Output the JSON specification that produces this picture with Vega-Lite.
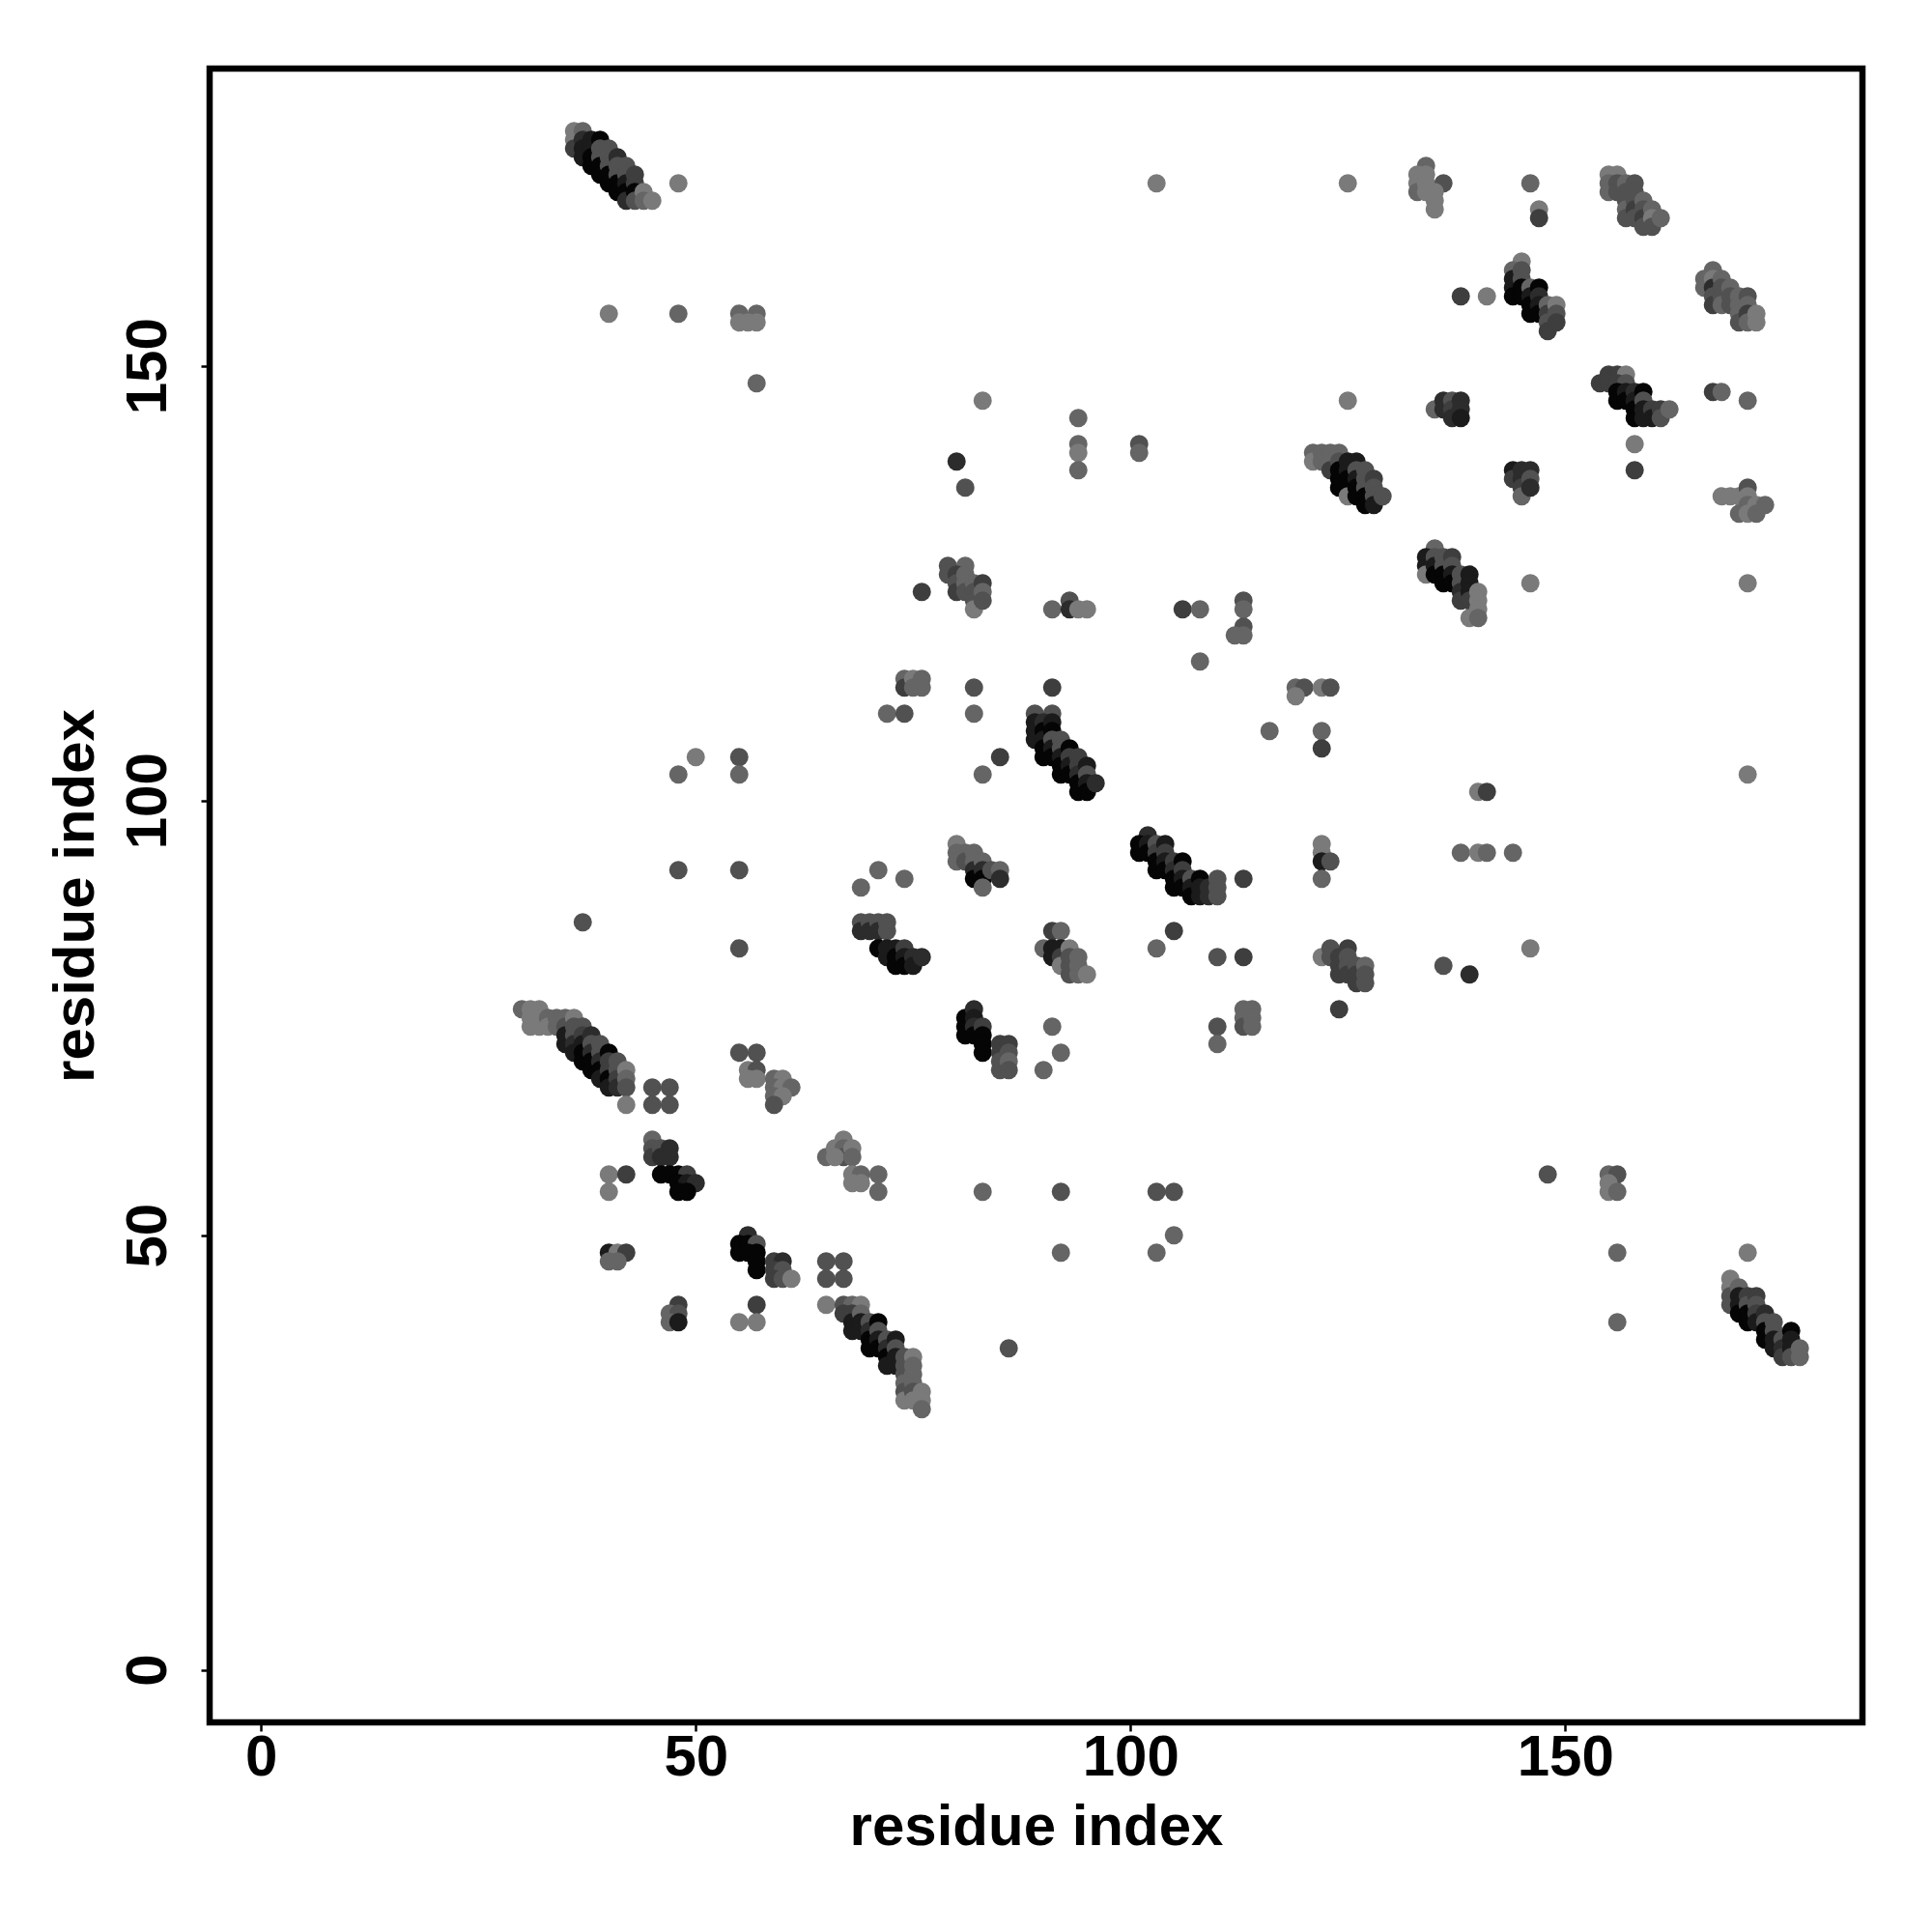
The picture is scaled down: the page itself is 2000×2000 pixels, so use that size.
{"$schema":"https://vega.github.io/schema/vega-lite/v6.json","width":1711,"height":1712,"autosize":{"type":"none"},"padding":{"left":217,"top":71,"right":72,"bottom":217},"background":"white","view":{"stroke":"black","strokeWidth":6.5},"config":{"axis":{"grid":false,"domain":false,"tickColor":"black","tickWidth":2.5,"tickSize":9,"labelFont":"Liberation Sans","labelFontWeight":"bold","labelFontSize":60,"labelColor":"black","titleFont":"Liberation Sans","titleFontWeight":"bold","titleFontSize":60,"titleColor":"black"}},"data":{"values":[
{"i":36,"j":177,"w":1},{"i":36,"j":176,"w":1},{"i":36,"j":175,"w":4},{"i":37,"j":177,"w":2},{"i":37,"j":176,"w":5},{"i":37,"j":175,"w":6},{"i":37,"j":174,"w":6},{"i":38,"j":176,"w":6},{"i":38,"j":175,"w":6},{"i":38,"j":174,"w":7},{"i":38,"j":173,"w":7},{"i":39,"j":176,"w":7},{"i":39,"j":175,"w":3},{"i":39,"j":174,"w":3},{"i":39,"j":173,"w":7},{"i":39,"j":172,"w":7},{"i":40,"j":175,"w":3},{"i":40,"j":174,"w":3},{"i":40,"j":173,"w":3},{"i":40,"j":172,"w":7},{"i":40,"j":171,"w":7},{"i":41,"j":174,"w":5},{"i":41,"j":173,"w":3},{"i":41,"j":172,"w":3},{"i":41,"j":171,"w":7},{"i":41,"j":170,"w":7},{"i":42,"j":173,"w":3},{"i":42,"j":172,"w":3},{"i":42,"j":171,"w":6},{"i":42,"j":170,"w":7},{"i":42,"j":169,"w":5},{"i":43,"j":172,"w":4},{"i":43,"j":171,"w":4},{"i":43,"j":170,"w":7},{"i":43,"j":169,"w":3},{"i":44,"j":170,"w":1},{"i":44,"j":169,"w":2},{"i":45,"j":169,"w":1},
{"i":40,"j":156,"w":1},{"i":48,"j":156,"w":2},{"i":55,"j":156,"w":2},{"i":57,"j":156,"w":2},{"i":55,"j":155,"w":1},{"i":56,"j":155,"w":1},{"i":57,"j":155,"w":1},{"i":57,"j":148,"w":2},{"i":48,"j":171,"w":1},{"i":83,"j":146,"w":1},
{"i":103,"j":171,"w":1},{"i":125,"j":171,"w":1},{"i":134,"j":173,"w":2},{"i":133,"j":172,"w":1},{"i":133,"j":171,"w":1},{"i":133,"j":170,"w":2},{"i":134,"j":172,"w":1},{"i":134,"j":171,"w":1},{"i":134,"j":170,"w":1},{"i":136,"j":171,"w":3},{"i":135,"j":170,"w":1},{"i":135,"j":169,"w":1},{"i":135,"j":168,"w":1},{"i":146,"j":171,"w":2},{"i":147,"j":168,"w":1},{"i":147,"j":167,"w":4},
{"i":145,"j":162,"w":1},{"i":144,"j":161,"w":2},{"i":144,"j":160,"w":6},{"i":144,"j":159,"w":6},{"i":144,"j":158,"w":7},{"i":145,"j":161,"w":3},{"i":145,"j":160,"w":3},{"i":145,"j":159,"w":7},{"i":145,"j":158,"w":7},{"i":146,"j":159,"w":2},{"i":146,"j":158,"w":6},{"i":146,"j":157,"w":7},{"i":146,"j":156,"w":7},{"i":147,"j":159,"w":7},{"i":147,"j":158,"w":5},{"i":147,"j":157,"w":6},{"i":147,"j":156,"w":7},{"i":148,"j":157,"w":2},{"i":148,"j":156,"w":4},{"i":148,"j":155,"w":3},{"i":148,"j":154,"w":4},{"i":149,"j":157,"w":1},{"i":149,"j":156,"w":3},{"i":149,"j":155,"w":4},{"i":138,"j":158,"w":4},{"i":141,"j":158,"w":1},{"i":125,"j":146,"w":1},
{"i":135,"j":145,"w":2},{"i":136,"j":146,"w":5},{"i":136,"j":145,"w":5},{"i":137,"j":146,"w":3},{"i":137,"j":145,"w":4},{"i":137,"j":144,"w":5},{"i":138,"j":146,"w":5},{"i":138,"j":145,"w":5},{"i":138,"j":144,"w":6},{"i":101,"j":141,"w":3},{"i":101,"j":140,"w":2},
{"i":121,"j":140,"w":2},{"i":121,"j":139,"w":1},{"i":122,"j":140,"w":2},{"i":122,"j":139,"w":2},{"i":123,"j":140,"w":2},{"i":123,"j":139,"w":2},{"i":123,"j":138,"w":4},{"i":124,"j":140,"w":2},{"i":124,"j":139,"w":3},{"i":124,"j":138,"w":7},{"i":124,"j":137,"w":7},{"i":124,"j":136,"w":7},{"i":125,"j":139,"w":6},{"i":125,"j":138,"w":6},{"i":125,"j":137,"w":7},{"i":125,"j":136,"w":7},{"i":125,"j":135,"w":1},{"i":126,"j":139,"w":6},{"i":126,"j":138,"w":3},{"i":126,"j":137,"w":6},{"i":126,"j":136,"w":7},{"i":126,"j":135,"w":7},{"i":127,"j":138,"w":3},{"i":127,"j":137,"w":3},{"i":127,"j":136,"w":3},{"i":127,"j":135,"w":7},{"i":127,"j":134,"w":7},{"i":128,"j":137,"w":4},{"i":128,"j":136,"w":3},{"i":128,"j":135,"w":3},{"i":128,"j":134,"w":6},{"i":129,"j":135,"w":3},
{"i":144,"j":138,"w":6},{"i":144,"j":137,"w":4},{"i":145,"j":138,"w":5},{"i":145,"j":137,"w":5},{"i":145,"j":136,"w":4},{"i":145,"j":135,"w":2},{"i":146,"j":138,"w":5},{"i":146,"j":137,"w":3},{"i":146,"j":136,"w":5},
{"i":155,"j":172,"w":1},{"i":156,"j":172,"w":1},{"i":155,"j":171,"w":2},{"i":155,"j":170,"w":2},{"i":156,"j":171,"w":3},{"i":156,"j":170,"w":3},{"i":157,"j":171,"w":2},{"i":157,"j":170,"w":3},{"i":157,"j":169,"w":3},{"i":157,"j":168,"w":2},{"i":157,"j":167,"w":3},{"i":158,"j":171,"w":3},{"i":158,"j":170,"w":3},{"i":158,"j":169,"w":3},{"i":158,"j":168,"w":4},{"i":158,"j":167,"w":3},{"i":159,"j":169,"w":2},{"i":159,"j":168,"w":3},{"i":159,"j":167,"w":4},{"i":159,"j":166,"w":3},{"i":160,"j":168,"w":2},{"i":160,"j":167,"w":1},{"i":160,"j":166,"w":3},{"i":161,"j":167,"w":2},
{"i":167,"j":161,"w":2},{"i":166,"j":160,"w":2},{"i":166,"j":159,"w":2},{"i":167,"j":160,"w":1},{"i":167,"j":159,"w":5},{"i":167,"j":158,"w":3},{"i":167,"j":157,"w":4},{"i":168,"j":160,"w":2},{"i":168,"j":159,"w":3},{"i":168,"j":158,"w":3},{"i":168,"j":157,"w":2},{"i":169,"j":159,"w":2},{"i":169,"j":158,"w":3},{"i":169,"j":157,"w":3},{"i":170,"j":158,"w":2},{"i":170,"j":157,"w":2},{"i":170,"j":156,"w":2},{"i":170,"j":155,"w":3},{"i":171,"j":158,"w":3},{"i":171,"j":157,"w":2},{"i":171,"j":156,"w":4},{"i":171,"j":155,"w":2},{"i":172,"j":156,"w":1},{"i":172,"j":155,"w":1},
{"i":154,"j":148,"w":4},{"i":155,"j":149,"w":4},{"i":156,"j":149,"w":4},{"i":157,"j":149,"w":1},{"i":155,"j":148,"w":4},{"i":156,"j":148,"w":4},{"i":157,"j":148,"w":3},{"i":156,"j":147,"w":7},{"i":156,"j":146,"w":7},{"i":157,"j":147,"w":6},{"i":157,"j":146,"w":7},{"i":158,"j":147,"w":5},{"i":158,"j":146,"w":6},{"i":158,"j":145,"w":7},{"i":158,"j":144,"w":7},{"i":159,"j":147,"w":7},{"i":159,"j":146,"w":3},{"i":159,"j":145,"w":6},{"i":159,"j":144,"w":6},{"i":160,"j":145,"w":4},{"i":160,"j":144,"w":6},{"i":161,"j":145,"w":4},{"i":161,"j":144,"w":3},{"i":162,"j":145,"w":2},
{"i":167,"j":147,"w":4},{"i":168,"j":147,"w":2},{"i":171,"j":146,"w":2},{"i":158,"j":141,"w":1},{"i":158,"j":138,"w":4},{"i":168,"j":135,"w":1},{"i":169,"j":135,"w":1},{"i":170,"j":135,"w":1},{"i":171,"j":136,"w":3},{"i":171,"j":135,"w":1},{"i":171,"j":134,"w":2},{"i":170,"j":133,"w":2},{"i":171,"j":133,"w":1},{"i":172,"j":134,"w":1},{"i":172,"j":133,"w":2},{"i":173,"j":134,"w":2},{"i":146,"j":125,"w":1},{"i":171,"j":125,"w":1},
{"i":94,"j":144,"w":2},{"i":94,"j":141,"w":2},{"i":94,"j":140,"w":1},{"i":94,"j":138,"w":2},{"i":80,"j":139,"w":5},{"i":81,"j":136,"w":3},
{"i":79,"j":127,"w":3},{"i":79,"j":126,"w":3},{"i":81,"j":127,"w":2},{"i":80,"j":126,"w":4},{"i":80,"j":125,"w":3},{"i":80,"j":124,"w":4},{"i":81,"j":126,"w":2},{"i":81,"j":125,"w":2},{"i":81,"j":124,"w":3},{"i":82,"j":125,"w":2},{"i":82,"j":124,"w":3},{"i":82,"j":123,"w":3},{"i":82,"j":122,"w":1},{"i":83,"j":125,"w":4},{"i":83,"j":124,"w":2},{"i":83,"j":123,"w":3},{"i":76,"j":124,"w":4},
{"i":91,"j":122,"w":2},{"i":93,"j":123,"w":3},{"i":93,"j":122,"w":5},{"i":94,"j":122,"w":1},{"i":95,"j":122,"w":1},{"i":106,"j":122,"w":4},{"i":108,"j":122,"w":2},{"i":113,"j":123,"w":3},{"i":113,"j":122,"w":2},{"i":113,"j":120,"w":3},{"i":113,"j":119,"w":2},{"i":112,"j":119,"w":2},{"i":108,"j":116,"w":2},
{"i":74,"j":114,"w":2},{"i":74,"j":113,"w":4},{"i":75,"j":114,"w":1},{"i":75,"j":113,"w":2},{"i":76,"j":114,"w":2},{"i":76,"j":113,"w":2},{"i":82,"j":113,"w":3},{"i":91,"j":113,"w":4},{"i":72,"j":110,"w":2},{"i":74,"j":110,"w":3},{"i":82,"j":110,"w":2},{"i":89,"j":110,"w":3},{"i":91,"j":110,"w":3},{"i":85,"j":105,"w":4},{"i":83,"j":103,"w":2},
{"i":119,"j":113,"w":2},{"i":120,"j":113,"w":3},{"i":119,"j":112,"w":1},{"i":122,"j":113,"w":1},{"i":123,"j":113,"w":3},{"i":116,"j":108,"w":2},{"i":122,"j":108,"w":2},{"i":122,"j":106,"w":4},
{"i":89,"j":109,"w":6},{"i":89,"j":108,"w":6},{"i":89,"j":107,"w":6},{"i":90,"j":109,"w":5},{"i":90,"j":108,"w":7},{"i":90,"j":107,"w":6},{"i":90,"j":106,"w":7},{"i":90,"j":105,"w":7},{"i":91,"j":109,"w":6},{"i":91,"j":108,"w":7},{"i":91,"j":107,"w":3},{"i":91,"j":106,"w":6},{"i":91,"j":105,"w":7},{"i":92,"j":107,"w":3},{"i":92,"j":106,"w":3},{"i":92,"j":105,"w":6},{"i":92,"j":104,"w":7},{"i":92,"j":103,"w":7},{"i":93,"j":106,"w":7},{"i":93,"j":105,"w":4},{"i":93,"j":104,"w":6},{"i":93,"j":103,"w":7},{"i":94,"j":105,"w":4},{"i":94,"j":104,"w":4},{"i":94,"j":103,"w":5},{"i":94,"j":102,"w":7},{"i":94,"j":101,"w":7},{"i":95,"j":104,"w":6},{"i":95,"j":103,"w":3},{"i":95,"j":102,"w":6},{"i":95,"j":101,"w":7},{"i":96,"j":102,"w":5},
{"i":102,"j":96,"w":5},{"i":101,"j":95,"w":7},{"i":101,"j":94,"w":7},{"i":102,"j":95,"w":6},{"i":102,"j":94,"w":7},{"i":103,"j":95,"w":3},{"i":103,"j":94,"w":4},{"i":103,"j":93,"w":7},{"i":103,"j":92,"w":7},{"i":104,"j":95,"w":6},{"i":104,"j":94,"w":4},{"i":104,"j":93,"w":6},{"i":104,"j":92,"w":7},{"i":105,"j":93,"w":4},{"i":105,"j":92,"w":5},{"i":105,"j":91,"w":7},{"i":105,"j":90,"w":7},{"i":106,"j":93,"w":7},{"i":106,"j":92,"w":4},{"i":106,"j":91,"w":6},{"i":106,"j":90,"w":7},{"i":107,"j":91,"w":3},{"i":107,"j":90,"w":6},{"i":107,"j":89,"w":7},{"i":108,"j":91,"w":7},{"i":108,"j":90,"w":6},{"i":108,"j":89,"w":6},{"i":109,"j":90,"w":5},{"i":109,"j":89,"w":5},{"i":110,"j":91,"w":3},{"i":110,"j":90,"w":3},{"i":110,"j":89,"w":3},{"i":113,"j":91,"w":4},
{"i":122,"j":95,"w":1},{"i":122,"j":94,"w":1},{"i":122,"j":93,"w":6},{"i":123,"j":93,"w":3},{"i":122,"j":91,"w":2},{"i":138,"j":94,"w":2},{"i":140,"j":94,"w":1},{"i":141,"j":94,"w":2},{"i":144,"j":94,"w":2},{"i":146,"j":83,"w":1},{"i":136,"j":81,"w":3},{"i":139,"j":80,"w":5},{"i":140,"j":101,"w":1},{"i":141,"j":101,"w":4},{"i":171,"j":103,"w":1},{"i":171,"j":48,"w":1},
{"i":55,"j":105,"w":3},{"i":55,"j":103,"w":2},{"i":48,"j":103,"w":2},{"i":50,"j":105,"w":1},{"i":48,"j":92,"w":3},{"i":55,"j":92,"w":3},{"i":55,"j":83,"w":3},{"i":37,"j":86,"w":3},
{"i":91,"j":85,"w":4},{"i":92,"j":85,"w":2},{"i":90,"j":83,"w":2},{"i":91,"j":83,"w":6},{"i":91,"j":82,"w":6},{"i":92,"j":83,"w":6},{"i":92,"j":82,"w":4},{"i":92,"j":81,"w":1},{"i":93,"j":83,"w":1},{"i":93,"j":82,"w":3},{"i":93,"j":81,"w":3},{"i":93,"j":80,"w":3},{"i":94,"j":82,"w":2},{"i":94,"j":81,"w":2},{"i":94,"j":80,"w":2},{"i":95,"j":80,"w":1},
{"i":105,"j":85,"w":4},{"i":103,"j":83,"w":2},{"i":110,"j":82,"w":3},{"i":113,"j":82,"w":4},
{"i":122,"j":82,"w":1},{"i":123,"j":83,"w":3},{"i":123,"j":82,"w":3},{"i":124,"j":82,"w":4},{"i":124,"j":81,"w":4},{"i":124,"j":80,"w":4},{"i":125,"j":83,"w":4},{"i":125,"j":82,"w":3},{"i":125,"j":81,"w":3},{"i":125,"j":80,"w":4},{"i":126,"j":81,"w":3},{"i":126,"j":80,"w":4},{"i":126,"j":79,"w":4},{"i":127,"j":81,"w":2},{"i":127,"j":80,"w":3},{"i":127,"j":79,"w":3},
{"i":124,"j":76,"w":4},{"i":113,"j":76,"w":2},{"i":113,"j":75,"w":2},{"i":113,"j":74,"w":3},{"i":114,"j":76,"w":2},{"i":114,"j":75,"w":2},{"i":114,"j":74,"w":2},{"i":110,"j":74,"w":3},{"i":110,"j":72,"w":2},{"i":91,"j":74,"w":2},{"i":92,"j":71,"w":2},{"i":90,"j":69,"w":2},
{"i":81,"j":75,"w":7},{"i":81,"j":74,"w":7},{"i":81,"j":73,"w":7},{"i":82,"j":76,"w":5},{"i":82,"j":75,"w":6},{"i":82,"j":74,"w":5},{"i":82,"j":73,"w":7},{"i":83,"j":74,"w":4},{"i":83,"j":73,"w":7},{"i":83,"j":72,"w":7},{"i":83,"j":71,"w":7},{"i":85,"j":72,"w":4},{"i":85,"j":71,"w":4},{"i":85,"j":70,"w":3},{"i":85,"j":69,"w":3},{"i":86,"j":72,"w":4},{"i":86,"j":71,"w":3},{"i":86,"j":70,"w":2},{"i":86,"j":69,"w":3},
{"i":69,"j":86,"w":3},{"i":69,"j":85,"w":5},{"i":70,"j":86,"w":3},{"i":70,"j":85,"w":5},{"i":71,"j":86,"w":3},{"i":71,"j":85,"w":5},{"i":71,"j":83,"w":7},{"i":72,"j":86,"w":3},{"i":72,"j":85,"w":3},{"i":72,"j":83,"w":6},{"i":72,"j":82,"w":6},{"i":73,"j":83,"w":6},{"i":73,"j":82,"w":7},{"i":73,"j":81,"w":7},{"i":74,"j":83,"w":4},{"i":74,"j":82,"w":6},{"i":74,"j":81,"w":7},{"i":75,"j":82,"w":5},{"i":75,"j":81,"w":6},{"i":76,"j":82,"w":5},
{"i":80,"j":95,"w":1},{"i":80,"j":94,"w":2},{"i":80,"j":93,"w":2},{"i":81,"j":94,"w":2},{"i":81,"j":93,"w":3},{"i":82,"j":94,"w":2},{"i":82,"j":93,"w":2},{"i":82,"j":92,"w":5},{"i":82,"j":91,"w":7},{"i":83,"j":93,"w":2},{"i":83,"j":92,"w":5},{"i":83,"j":91,"w":7},{"i":83,"j":90,"w":2},{"i":84,"j":92,"w":3},{"i":85,"j":92,"w":2},{"i":85,"j":91,"w":5},{"i":69,"j":90,"w":2},{"i":71,"j":92,"w":2},{"i":74,"j":91,"w":2},
{"i":30,"j":76,"w":2},{"i":31,"j":76,"w":1},{"i":32,"j":76,"w":1},{"i":31,"j":75,"w":1},{"i":31,"j":74,"w":1},{"i":32,"j":75,"w":1},{"i":32,"j":74,"w":1},{"i":33,"j":75,"w":2},{"i":33,"j":74,"w":1},{"i":34,"j":75,"w":2},{"i":34,"j":74,"w":2},{"i":35,"j":75,"w":2},{"i":35,"j":74,"w":3},{"i":35,"j":73,"w":6},{"i":35,"j":72,"w":6},{"i":36,"j":75,"w":1},{"i":36,"j":74,"w":3},{"i":36,"j":73,"w":3},{"i":36,"j":72,"w":5},{"i":36,"j":71,"w":6},{"i":37,"j":74,"w":3},{"i":37,"j":73,"w":4},{"i":37,"j":72,"w":6},{"i":37,"j":71,"w":7},{"i":37,"j":70,"w":7},{"i":38,"j":73,"w":5},{"i":38,"j":72,"w":3},{"i":38,"j":71,"w":5},{"i":38,"j":70,"w":7},{"i":38,"j":69,"w":7},{"i":39,"j":72,"w":3},{"i":39,"j":71,"w":3},{"i":39,"j":70,"w":5},{"i":39,"j":69,"w":7},{"i":39,"j":68,"w":6},{"i":40,"j":71,"w":7},{"i":40,"j":70,"w":4},{"i":40,"j":69,"w":4},{"i":40,"j":68,"w":7},{"i":40,"j":67,"w":6},{"i":41,"j":70,"w":3},{"i":41,"j":69,"w":3},{"i":41,"j":68,"w":4},{"i":41,"j":67,"w":5},{"i":42,"j":69,"w":1},{"i":42,"j":68,"w":2},{"i":42,"j":67,"w":3},{"i":42,"j":65,"w":1},
{"i":45,"j":67,"w":3},{"i":47,"j":67,"w":3},{"i":45,"j":65,"w":3},{"i":47,"j":65,"w":3},{"i":45,"j":61,"w":2},{"i":45,"j":60,"w":3},{"i":45,"j":59,"w":4},{"i":46,"j":60,"w":3},{"i":46,"j":59,"w":5},{"i":47,"j":60,"w":5},{"i":47,"j":59,"w":5},{"i":40,"j":57,"w":1},{"i":42,"j":57,"w":4},{"i":40,"j":55,"w":1},{"i":46,"j":57,"w":7},{"i":47,"j":57,"w":7},{"i":48,"j":57,"w":7},{"i":49,"j":57,"w":4},{"i":48,"j":56,"w":7},{"i":49,"j":56,"w":6},{"i":50,"j":56,"w":5},{"i":48,"j":55,"w":7},{"i":49,"j":55,"w":7},
{"i":55,"j":71,"w":3},{"i":57,"j":71,"w":3},{"i":56,"j":69,"w":1},{"i":57,"j":69,"w":3},{"i":56,"j":68,"w":1},{"i":57,"j":68,"w":1},{"i":59,"j":68,"w":2},{"i":60,"j":68,"w":1},{"i":59,"j":67,"w":2},{"i":60,"j":67,"w":1},{"i":61,"j":67,"w":2},{"i":59,"j":66,"w":2},{"i":60,"j":66,"w":1},{"i":59,"j":65,"w":3},
{"i":65,"j":59,"w":2},{"i":66,"j":60,"w":1},{"i":67,"j":61,"w":1},{"i":67,"j":60,"w":2},{"i":67,"j":59,"w":3},{"i":66,"j":59,"w":1},{"i":68,"j":60,"w":1},{"i":68,"j":59,"w":2},{"i":68,"j":57,"w":1},{"i":69,"j":57,"w":2},{"i":68,"j":56,"w":1},{"i":69,"j":56,"w":1},{"i":71,"j":57,"w":2},{"i":71,"j":55,"w":2},
{"i":40,"j":48,"w":6},{"i":41,"j":48,"w":1},{"i":42,"j":48,"w":4},{"i":40,"j":47,"w":2},{"i":41,"j":47,"w":2},{"i":56,"j":50,"w":5},{"i":55,"j":49,"w":7},{"i":55,"j":48,"w":7},{"i":56,"j":49,"w":7},{"i":57,"j":49,"w":3},{"i":56,"j":48,"w":7},{"i":57,"j":48,"w":7},{"i":57,"j":47,"w":7},{"i":57,"j":46,"w":7},{"i":59,"j":47,"w":4},{"i":60,"j":47,"w":5},{"i":59,"j":46,"w":4},{"i":60,"j":46,"w":3},{"i":59,"j":45,"w":4},{"i":60,"j":45,"w":3},{"i":61,"j":45,"w":1},{"i":65,"j":47,"w":3},{"i":67,"j":47,"w":3},{"i":65,"j":45,"w":3},{"i":67,"j":45,"w":3},
{"i":48,"j":42,"w":4},{"i":47,"j":41,"w":2},{"i":48,"j":41,"w":3},{"i":47,"j":40,"w":2},{"i":48,"j":40,"w":6},{"i":57,"j":42,"w":4},{"i":55,"j":40,"w":1},{"i":57,"j":40,"w":1},{"i":65,"j":42,"w":1},
{"i":67,"j":42,"w":3},{"i":68,"j":42,"w":2},{"i":69,"j":42,"w":1},{"i":67,"j":41,"w":4},{"i":68,"j":41,"w":4},{"i":68,"j":40,"w":6},{"i":68,"j":39,"w":6},{"i":69,"j":41,"w":2},{"i":69,"j":40,"w":6},{"i":69,"j":39,"w":6},{"i":70,"j":40,"w":3},{"i":70,"j":39,"w":5},{"i":70,"j":38,"w":7},{"i":70,"j":37,"w":7},{"i":71,"j":40,"w":7},{"i":71,"j":39,"w":3},{"i":71,"j":38,"w":6},{"i":71,"j":37,"w":7},{"i":72,"j":38,"w":3},{"i":72,"j":37,"w":5},{"i":72,"j":36,"w":7},{"i":72,"j":35,"w":6},{"i":73,"j":38,"w":6},{"i":73,"j":37,"w":3},{"i":73,"j":36,"w":6},{"i":73,"j":35,"w":6},{"i":74,"j":36,"w":3},{"i":74,"j":35,"w":3},{"i":74,"j":34,"w":3},{"i":74,"j":33,"w":2},{"i":74,"j":32,"w":3},{"i":74,"j":31,"w":1},{"i":75,"j":36,"w":1},{"i":75,"j":35,"w":2},{"i":75,"j":34,"w":2},{"i":75,"j":33,"w":2},{"i":75,"j":32,"w":3},{"i":75,"j":31,"w":1},{"i":76,"j":32,"w":1},{"i":76,"j":31,"w":1},{"i":76,"j":30,"w":2},{"i":86,"j":37,"w":3},
{"i":83,"j":55,"w":2},{"i":92,"j":55,"w":3},{"i":103,"j":55,"w":3},{"i":105,"j":55,"w":3},{"i":105,"j":50,"w":2},{"i":92,"j":48,"w":2},{"i":103,"j":48,"w":2},
{"i":156,"j":48,"w":2},{"i":156,"j":40,"w":2},{"i":148,"j":57,"w":3},{"i":155,"j":57,"w":2},{"i":156,"j":57,"w":3},{"i":155,"j":56,"w":1},{"i":155,"j":55,"w":1},{"i":156,"j":55,"w":2},
{"i":169,"j":45,"w":1},{"i":169,"j":44,"w":1},{"i":169,"j":43,"w":3},{"i":169,"j":42,"w":3},{"i":170,"j":44,"w":2},{"i":170,"j":43,"w":6},{"i":170,"j":42,"w":6},{"i":170,"j":41,"w":7},{"i":171,"j":43,"w":4},{"i":171,"j":42,"w":3},{"i":171,"j":41,"w":7},{"i":171,"j":40,"w":7},{"i":172,"j":43,"w":4},{"i":172,"j":42,"w":3},{"i":172,"j":41,"w":4},{"i":172,"j":40,"w":6},{"i":173,"j":41,"w":5},{"i":173,"j":40,"w":3},{"i":173,"j":39,"w":7},{"i":173,"j":38,"w":7},{"i":174,"j":40,"w":3},{"i":174,"j":39,"w":3},{"i":174,"j":38,"w":6},{"i":174,"j":37,"w":6},{"i":175,"j":38,"w":3},{"i":175,"j":37,"w":5},{"i":175,"j":36,"w":4},{"i":176,"j":39,"w":7},{"i":176,"j":38,"w":6},{"i":176,"j":37,"w":6},{"i":176,"j":36,"w":3},{"i":177,"j":37,"w":2},{"i":177,"j":36,"w":2},
{"i":135,"j":129,"w":2},{"i":134,"j":128,"w":6},{"i":134,"j":127,"w":6},{"i":134,"j":126,"w":1},{"i":135,"j":128,"w":3},{"i":135,"j":127,"w":6},{"i":135,"j":126,"w":7},{"i":136,"j":128,"w":3},{"i":136,"j":127,"w":3},{"i":136,"j":126,"w":7},{"i":136,"j":125,"w":7},{"i":137,"j":128,"w":4},{"i":137,"j":127,"w":3},{"i":137,"j":126,"w":6},{"i":137,"j":125,"w":7},{"i":138,"j":126,"w":3},{"i":138,"j":125,"w":3},{"i":138,"j":124,"w":5},{"i":138,"j":123,"w":4},{"i":139,"j":126,"w":6},{"i":139,"j":125,"w":6},{"i":139,"j":124,"w":6},{"i":139,"j":123,"w":4},{"i":139,"j":121,"w":1},{"i":140,"j":124,"w":1},{"i":140,"j":123,"w":1},{"i":140,"j":122,"w":1},{"i":140,"j":121,"w":2}
]},"mark":{"type":"point","filled":true,"shape":"circle","size":360,"opacity":1,"strokeWidth":0},"encoding":{"x":{"field":"i","type":"quantitative","scale":{"domain":[-5.92,184.2],"nice":false,"zero":false},"axis":{"title":"residue index","values":[0,50,100,150],"labelPadding":-1.5,"titlePadding":12.5,"labelFlush":false}},"y":{"field":"j","type":"quantitative","scale":{"domain":[-6.04,184.2],"nice":false,"zero":false},"axis":{"title":"residue index","values":[0,50,100,150],"labelAngle":270,"labelAlign":"center","labelBaseline":"bottom","labelPadding":24,"titlePadding":14,"labelFlush":false}},"color":{"field":"w","type":"quantitative","legend":null,"scale":{"domain":[1,7],"range":["#7a7a7a","#050505"]}},"order":[{"field":"i","type":"quantitative"},{"field":"j","type":"quantitative"}]}}
